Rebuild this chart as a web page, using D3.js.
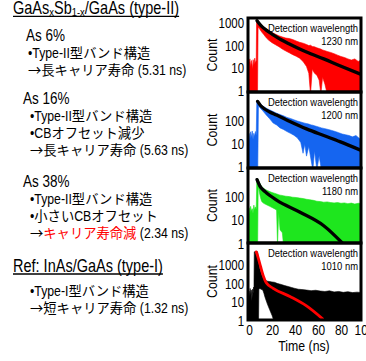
<!DOCTYPE html>
<html>
<head>
<meta charset="utf-8">
<script src="https://cdn.jsdelivr.net/npm/d3@7"></script>
<style>
  body { margin: 0; background: #fff; }
  svg { display: block; }
  text { white-space: pre; }
</style>
</head>
<body>
<div id="chart"></div>
<script>
// ---- data ----
const timeTicks = [0, 20, 40, 60, 80, 100];
const countTicksFull = [1, 10, 100, 1000];
const countTicksShort = [1, 10, 100];
const wavelengths = ['1230 nm', '1200 nm', '1180 nm', '1010 nm'];

const groupTitle = ['GaAs', 'x', 'Sb', '1-x', '/GaAs (type-II)'];
const sampleNames = ['As 6%', 'As 16%', 'As 38%'];
const sampleNotes = [
  ['•Type-II型バンド構造', '→長キャリア寿命 (5.31 ns)'],
  ['•Type-II型バンド構造', '•CBオフセット減少', '→長キャリア寿命 (5.63 ns)'],
  ['•Type-II型バンド構造', '•小さいCBオフセット', '→キャリア寿命減 (2.34 ns)']
];
const refTitle = 'Ref: InAs/GaAs (type-I)';
const refNotes = ['•Type-I型バンド構造', '→短キャリア寿命 (1.32 ns)'];
const highlightText = 'キャリア寿命減';

// noisy PL traces as [time ns, lower count, upper count]
const bandAs6 = [
  [0,1,18],[0.8,1,26],[1.5,1,12],[2.2,1,22],[3,1,9],[3.6,1,24],[4.3,1,14],[5,1,28],[5.7,1,17],[6.3,1,22],
  [6.6,1,1300],[7.4,1,1350],[7.9,650,1250],
  [9,560,1050],[11,400,820],[13,300,650],[15,220,560],[17,175,470],[20,135,380],[23,110,320],
  [26,90,270],[29,70,240],[32,58,215],[35,48,205],[38,40,185],[41,34,160],[44,28,140],[47,20,128],
  [50,12,112],[52,6,100],[53.5,1,104],[55,9,92],[57,6,88],[59,5,80],[61,3,74],[62.5,1,70],[64,4,64],
  [66,2,60],[68,1,55],[71,1,50],[74,1,44],[77,1,38],[80,1,33],[83,1,30],[86,1,26],[89,1,23],
  [92,1,26],[95,1,20],[98,1,24],[100,1,18]
];
const fitAs6 = [[7,1250],[10,800],[15,480],[21,300],[28,180],[36,112],[50,52],[65,26],[79,13],[97,5.5]];

const bandAs16 = [
  [0,1,30],[0.7,1,14],[1.4,1,35],[2.1,1,20],[2.8,1,38],[3.5,1,16],[4.2,1,30],[4.9,1,22],[5.6,1,36],[6.3,1,25],
  [6.8,1,780],[7.6,1,820],[8.2,480,760],
  [10,370,580],[12,290,470],[15,190,380],[18,130,320],[21,85,270],[24,70,230],[27,52,200],[30,44,175],
  [33,36,150],[36,30,135],[39,25,118],[42,19,104],[45,12,94],[47,4,88],[48.5,10,84],[50,3,80],[52,8,76],
  [54,2,70],[55.5,1,68],[57,5,64],[59,1,60],[61,3,56],[63,1,52],[66,1,48],[69,1,44],[72,1,40],[75,1,36],
  [78,1,32],[81,1,28],[84,1,26],[87,1,24],[90,1,21],[93,1,24],[96,1,18],[100,1,20]
];
const fitAs16 = [[7.5,750],[10,500],[13,370],[18,260],[24,190],[36,97],[50,47],[65,24],[79,13],[97,5.5]];

const bandAs38 = [
  [0,1,35],[0.7,1,18],[1.4,1,40],[2.1,1,25],[2.8,1,32],[3.5,1,20],[4.2,1,45],[4.9,1,28],[5.6,1,38],[6.3,1,30],
  [6.8,1,560],[7.5,1,600],[8,300,540],
  [9,160,420],[10,95,340],[11,65,280],[12.5,55,240],[14,50,210],[16,45,190],[18,40,170],[20,36,155],
  [22,32,145],[24,28,135],[24.8,1,130],[25.8,22,125],[27,4,120],[29,3,116],[30,1,112],[32,1,108],
  [35,1,104],[38,1,98],[41,1,95],[44,1,90],[47,1,86],[50,1,80],[53,1,76],[56,1,72],[59,1,66],[62,1,64],
  [65,1,60],[68,1,62],[71,1,58],[74,1,56],[77,1,58],[80,1,54],[83,1,56],[86,1,52],[89,1,55],[92,1,50],
  [95,1,54],[100,1,52]
];
const fitAs38 = [[7,550],[9.5,290],[14,170],[24,74],[44,23],[65,6],[82,1]];

const bandRef = [
  [0,1,40],[0.5,1,18],[1,1,55],[1.5,1,25],[2,1,45],[2.5,1,12],[3,1,50],[3.5,1,30],[4,1,65],[4.3,1,40],
  [4.6,1,5000],[7.5,1,5000],[8.3,1,1800],[8.6,50,1100],[9.5,55,600],[10.5,50,380],[12,45,220],[13,30,170],
  [14,18,150],[16,8,135],[18,4,128],[20,2,122],[22,1,118],[25,1,100],[28,1,90],[31,1,78],[34,1,70],
  [37,1,62],[40,1,55],[43,1,50],[46,1,48],[50,1,45],[54,1,42],[58,1,44],[62,1,40],[66,1,38],[70,1,41],
  [74,1,36],[78,1,38],[82,1,34],[86,1,37],[90,1,33],[94,1,35],[100,1,32]
];
const fitRef = [[6.3,5000],[8,2400],[10,850],[12.5,250],[15,110],[21,56],[36,20],[50,6.4],[64,1.3]];

// ---- drawing ----
const W = 366, H = 361;
const LAT = '"Liberation Sans", Arial, sans-serif';
const CJK = '"Noto Sans CJK JP", "Noto Sans CJK SC", sans-serif';
const SX = 0.82; // squeeze latin text to look like a narrow face
const CJK_CLASS = '\u2190-\u21ff\u3000-\u30ff\u4e00-\u9fff\uff00-\uffef';
const CJK_RE = new RegExp('[' + CJK_CLASS + ']');
const RUN_RE = new RegExp('[' + CJK_CLASS + ']+|[^' + CJK_CLASS + ']+', 'g');

const svg = d3.select('#chart').append('svg')
  .attr('width', W)
  .attr('height', H);

function putText(parent, x, y, str, size, opts) {
  opts = opts || {};
  const sx = opts.sx || SX;
  return parent.append('text')
    .attr('transform', 'translate(' + x + ',' + y + ')' + (opts.rotate ? ' rotate(' + opts.rotate + ')' : '') + ' scale(' + sx + ',1)')
    .attr('font-family', opts.family || LAT)
    .attr('font-size', size)
    .attr('fill', opts.fill || '#000')
    .attr('text-anchor', opts.anchor || 'start')
    .text(str);
}

// mixed latin / japanese line, laid out run by run
function richLine(x, y, str, latSize, cjkSize) {
  let pieces = [{s: str, c: '#000'}];
  if (str.includes(highlightText)) {
    const p = str.split(highlightText);
    pieces = [{s: p[0], c: '#000'}, {s: highlightText, c: '#ff0000'}, {s: p[1], c: '#000'}];
  }
  let cx = x;
  pieces.forEach(function(pc) {
    (pc.s.match(RUN_RE) || []).forEach(function(r) {
      const cjk = CJK_RE.test(r);
      const sx = cjk ? 1 : SX;
      const t = putText(svg, cx, y, r, cjk ? cjkSize : latSize,
        {sx: sx, family: cjk ? CJK : LAT, fill: pc.c});
      cx += t.node().getComputedTextLength() * sx;
    });
  });
}

function underline(t, x, y) {
  const b = t.node().getBBox();
  svg.append('line')
    .attr('x1', x).attr('x2', x + b.width * SX)
    .attr('y1', y).attr('y2', y)
    .attr('stroke', '#000').attr('stroke-width', 1.3);
}

// left column text
const title = putText(svg, 13, 14, '', 17.7);
groupTitle.forEach(function(s, i) {
  const sub = i % 2 === 1;
  title.append('tspan')
    .attr('font-size', sub ? 11.5 : 17.7)
    .attr('dy', i === 0 ? 0 : (sub ? 2 : -2))
    .text(s);
});
underline(title, 13, 16.3);

const nameY = [41, 104, 187];
const nameX = [26, 23, 23];
const noteX = [28, 30, 30];
sampleNames.forEach(function(n, i) {
  putText(svg, nameX[i], nameY[i], n, 16.5);
  sampleNotes[i].forEach(function(line, j) {
    richLine(noteX[i], nameY[i] + 16.5 + j * 17, line, 15, 13.3);
  });
});

const refT = putText(svg, 13, 271.5, refTitle, 17.7);
underline(refT, 13, 274);
refNotes.forEach(function(line, j) {
  richLine(30, 296 + j * 16.5, line, 15, 13.3);
});

// right column: four stacked decay panels
const x = d3.scaleLinear().domain([0, 100]).range([249, 364]);
const frameL = 248, frameR = 361;
const edges = [18, 92, 168, 243, 320];
const panels = [
  {band: bandAs6,  fit: fitAs6,  fill: '#ff0000', line: '#000', y1: 91,  dec: 22.7, ticks: countTicksFull},
  {band: bandAs16, fit: fitAs16, fill: '#1565f0', line: '#000', y1: 167, dec: 22.8, ticks: countTicksShort},
  {band: bandAs38, fit: fitAs38, fill: '#1ee61e', line: '#000', y1: 244, dec: 23.5, ticks: countTicksShort},
  {band: bandRef,  fit: fitRef,  fill: '#000',    line: '#ff0000', y1: 321, dec: 18.7, ticks: countTicksFull}
];

panels.forEach(function(p, i) {
  const top = edges[i], bottom = edges[i + 1];
  const y = d3.scaleLog().domain([1, 1000]).range([p.y1, p.y1 - 3 * p.dec]);
  const g = svg.append('g');

  svg.append('clipPath').attr('id', 'clip' + i)
    .append('rect')
    .attr('x', frameL).attr('y', top)
    .attr('width', frameR - frameL).attr('height', bottom - top);

  const plot = g.append('g').attr('clip-path', 'url(#clip' + i + ')');

  const area = d3.area()
    .x(function(d) { return x(d[0]); })
    .y0(function(d) { return d[1] <= 1 ? bottom + 2 : y(d[1]); })
    .y1(function(d) { return y(d[2]); });

  plot.append('path')
    .datum(p.band)
    .attr('fill', p.fill)
    .attr('stroke', p.fill)
    .attr('stroke-width', 0.6)
    .attr('d', area);

  const fitLine = d3.line()
    .x(function(d) { return x(d[0]); })
    .y(function(d) { return y(d[1]); })
    .curve(d3.curveMonotoneX);

  plot.append('path')
    .datum(p.fit)
    .attr('fill', 'none')
    .attr('stroke', p.line)
    .attr('stroke-width', i === 3 ? 2.8 : 3.3)
    .attr('stroke-linecap', 'round')
    .attr('d', fitLine);

  putText(g, 358, top + 13.5, 'Detection wavelength', 11.5, {anchor: 'end'});
  putText(g, 358, top + 27, wavelengths[i], 11.5, {anchor: 'end'});

  const yAxis = g.append('g')
    .attr('transform', 'translate(' + (frameL - 1.5) + ',0)')
    .call(d3.axisLeft(y).tickValues(p.ticks).tickFormat(d3.format('d')).tickSize(0).tickPadding(3));
  yAxis.select('.domain').remove();
  yAxis.selectAll('text')
    .attr('transform', 'scale(' + SX + ',1)')
    .attr('font-family', LAT).attr('font-size', 14).attr('fill', '#000');

  putText(g, 217, (top + bottom) / 2, 'Count', 15, {anchor: 'middle', rotate: -90});

  g.append('rect')
    .attr('x', frameL).attr('y', top)
    .attr('width', frameR - frameL).attr('height', bottom - top)
    .attr('fill', 'none')
    .attr('stroke', '#000')
    .attr('stroke-width', 3);
});

const xAxis = svg.append('g')
  .attr('transform', 'translate(0,' + edges[4] + ')')
  .call(d3.axisBottom(x).tickValues(timeTicks).tickSize(0).tickPadding(5));
xAxis.select('.domain').remove();
xAxis.selectAll('text')
  .attr('transform', 'scale(' + SX + ',1)')
  .attr('font-family', LAT).attr('font-size', 14.5).attr('fill', '#000');

putText(svg, 304, 351, 'Time (ns)', 15, {anchor: 'middle'});
</script>
</body>
</html>
